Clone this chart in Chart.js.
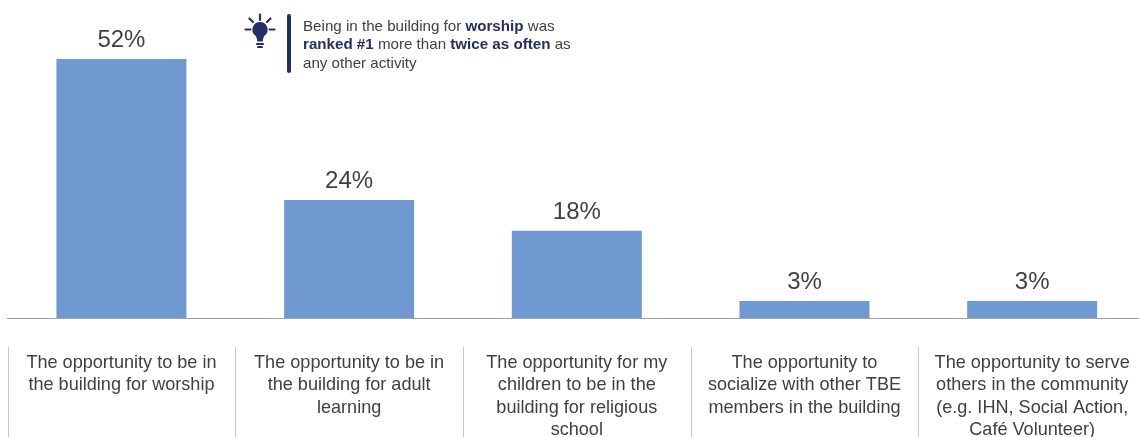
<!DOCTYPE html>
<html>
<head>
<meta charset="utf-8">
<script src="https://cdn.jsdelivr.net/npm/chart.js@4"></script>
<style>
html, body { margin: 0; padding: 0; background: #fff; overflow: hidden; width: 1139px; height: 437px; }
#wrap { position: relative; width: 1139px; height: 437px; overflow: hidden; }
canvas { position: absolute; left: 0; top: 0; }
#note { position: absolute; left: 303px; top: 16.5px; width: 300px; font: 15.15px/18.5px "Liberation Sans", Arial, sans-serif; color: #404040; white-space: nowrap; }
#note b { color: #252f66; }
#icon { position: absolute; left: 240px; top: 10px; }
</style>
</head>
<body>
<div id="wrap">
  <canvas id="chart" width="1146" height="437" style="width:1146px;height:437px"></canvas>
  <svg id="icon" width="54" height="66" viewBox="0 0 54 66">
    <g stroke="#252f66" stroke-width="2.2" stroke-linecap="round" fill="none">
      <line x1="20" y1="4.5" x2="20" y2="10"/>
      <line x1="9.5" y1="8.5" x2="13" y2="12"/>
      <line x1="30.5" y1="8.5" x2="27" y2="12"/>
      <line x1="5.5" y1="19.5" x2="10.5" y2="19.5"/>
      <line x1="29.5" y1="19.5" x2="34.5" y2="19.5"/>
      <line x1="17" y1="34" x2="23" y2="34"/>
      <line x1="18" y1="37" x2="22" y2="37"/>
    </g>
    <path d="M20 12a7.6 7.6 0 0 1 5 13.3c-1.3 1.3-2 3-2.2 6.2h-5.6c-.2-3.2-.9-4.9-2.2-6.2a7.6 7.6 0 0 1 5-13.3z" fill="#252f66"/>
    <rect x="47" y="4" width="4" height="59" rx="2" fill="#252f66"/>
  </svg>
  <div id="note">Being in the building for <b>worship</b> was<br><b>ranked #1</b> more than <b>twice as often</b> as<br>any other activity</div>
</div>
<script>
const categories = [
  ['The opportunity to be in', 'the building for worship'],
  ['The opportunity to be in', 'the building for adult', 'learning'],
  ['The opportunity for my', 'children to be in the', 'building for religious', 'school'],
  ['The opportunity to', 'socialize with other TBE', 'members in the building'],
  ['The opportunity to serve', 'others in the community', '(e.g. IHN, Social Action,', 'Café Volunteer)']
];
const values = [52, 23.7, 17.5, 3.4, 3.4];

const labelFont = '"Liberation Sans", Arial, sans-serif';

// percent labels over the bars and the separators between the category labels
const extras = {
  id: 'extras',
  afterDraw(chart) {
    const c = chart.ctx;
    const x = chart.scales.x;
    const y = chart.scales.y;
    c.save();
    c.font = '24px ' + labelFont;
    c.fillStyle = '#404040';
    c.textAlign = 'center';
    c.textBaseline = 'alphabetic';
    values.forEach((v, i) => {
      c.fillText(Math.round(v) + '%', x.getPixelForValue(i), y.getPixelForValue(v) - 12);
    });
    const step = x.getPixelForValue(1) - x.getPixelForValue(0);
    c.strokeStyle = '#c9c9c9';
    c.lineWidth = 1;
    values.forEach((v, i) => {
      const px = Math.round(x.getPixelForValue(i) - step / 2) + 0.5;
      c.beginPath();
      c.moveTo(px, y.bottom + 29);
      c.lineTo(px, chart.height);
      c.stroke();
    });
    c.restore();
  }
};

new Chart(document.getElementById('chart'), {
  type: 'bar',
  data: {
    labels: categories,
    datasets: [{
      data: values,
      backgroundColor: '#7099d1',
      categoryPercentage: 1,
      barPercentage: 0.571
    }]
  },
  options: {
    responsive: false,
    animation: false,
    layout: { padding: { left: 7.6 } },
    plugins: { legend: { display: false }, tooltip: { enabled: false } },
    scales: {
      x: {
        afterFit(scale) {
          scale.height = 119;
          scale.paddingLeft = 0;
          scale.paddingRight = 0;
        },
        grid: { display: false },
        border: { color: '#a0a0a0', width: 1 },
        ticks: {
          autoSkip: false,
          maxRotation: 0,
          padding: 26,
          color: '#404040',
          font: { family: labelFont, size: 18.1, lineHeight: 1.232 }
        }
      },
      y: { display: false, min: 0, max: 63.86 }
    }
  },
  plugins: [extras]
});
</script>
</body>
</html>
